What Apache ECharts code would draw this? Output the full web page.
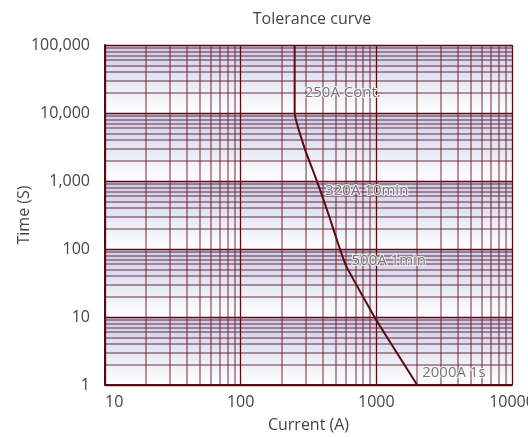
<!DOCTYPE html>
<html>
<head>
<meta charset="utf-8">
<script src="https://cdn.jsdelivr.net/npm/echarts@6/dist/echarts.min.js"></script>
<style>html,body{margin:0;padding:0;background:#fff;}#c{width:528px;height:437px;}</style>
</head>
<body>
<div id="c"></div>
<script>
// curve
const currents = [250, 250, 300, 340, 385, 450, 530, 600, 1000, 2000];
const times = [100000, 10000, 2800, 1450, 740, 300, 110, 56, 9, 1];
// annotated rating points
const noteCurrents = [250, 320, 500, 2000];
const noteTimes = [10000, 600, 60, 1];
const noteLabels = ['250A Cont.', '320A 10min', '500A 1min', '2000A 1s'];
const noteOffsets = [[5, -20], [11, -5], [11, -3], [0, -12]];

const FONT = '"Open Sans", sans-serif';
const DARK = '#5a0a12';
const chart = echarts.init(document.getElementById('c'));
chart.setOption({
  animation: false,
  title: {
    text: 'Tolerance curve',
    left: 307, top: 6, textAlign: 'center',
    textStyle: { fontFamily: FONT, fontSize: 16, fontWeight: 'normal', color: '#444' }
  },
  grid: { left: 105, right: 16, top: 45, bottom: 52, outerBoundsMode: 'none', containLabel: false },
  xAxis: {
    type: 'log', logBase: 10, min: 10, max: 10000,
    name: 'Current (A)', nameLocation: 'middle', nameGap: 32, nameMoveOverlap: false,
    nameTextStyle: { fontFamily: FONT, fontSize: 16, color: '#444' },
    axisLine: { show: true, lineStyle: { color: DARK, width: 2 } },
    axisTick: { show: false },
    axisLabel: { fontFamily: FONT, fontSize: 16, color: '#444', margin: 9, alignMinLabel: 'left',
      hideOverlap: false, formatter: v => String(v) },
    splitLine: { show: true, lineStyle: { color: DARK, width: 1.3 } },
    minorTick: { show: false, splitNumber: 9 },
    minorSplitLine: { show: true, lineStyle: { color: 'rgba(105,20,30,0.6)', width: 1.5 } }
  },
  yAxis: {
    type: 'log', logBase: 10, min: 1, max: 100000,
    name: 'Time (S)', nameLocation: 'middle', nameGap: 73, nameMoveOverlap: false,
    nameTextStyle: { fontFamily: FONT, fontSize: 16, color: '#444' },
    axisLine: { show: true, lineStyle: { color: DARK, width: 2 } },
    axisTick: { show: false },
    axisLabel: { fontFamily: FONT, fontSize: 16, color: '#444', margin: 15,
      formatter: v => Number(v).toLocaleString('en-US') },
    splitLine: { show: true, lineStyle: { color: DARK, width: 1.3 } },
    minorTick: { show: false, splitNumber: 9 },
    minorSplitLine: { show: true, lineStyle: { color: 'rgba(105,20,30,0.6)', width: 1.5 } },
    splitArea: { show: true, areaStyle: { color: [{
      type: 'linear', x: 0, y: 0, x2: 0, y2: 1,
      colorStops: [{ offset: 0, color: '#c8cdea' }, { offset: 1, color: '#ffffff' }]
    }] } }
  },
  series: [{
    type: 'line',
    data: currents.map((c, i) => [c, times[i]]),
    smooth: 0.15,
    showSymbol: false,
    lineStyle: { color: DARK, width: 2 },
    z: 3
  }, {
    type: 'scatter',
    symbolSize: 0,
    data: noteCurrents.map((c, i) => ({
      value: [c, noteTimes[i]],
      label: { offset: noteOffsets[i], formatter: noteLabels[i] }
    })),
    label: { show: true, position: 'right', fontFamily: FONT, fontSize: 15, color: '#555',
      textBorderColor: '#fff', textBorderWidth: 2 },
    z: 4
  }]
});
</script>
</body>
</html>
